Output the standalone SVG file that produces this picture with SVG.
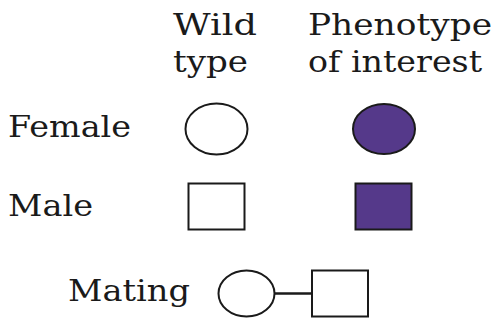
<svg xmlns="http://www.w3.org/2000/svg" width="500" height="326" viewBox="0 0 500 326">
<style>
text{font-family:"DejaVu Serif","Liberation Serif",serif;font-size:29px;fill:#1a1a1a}
.sym{stroke:#1a1a1a;stroke-width:2}
.wt{fill:#ffffff}
.ph{fill:#55398a}
.conn{stroke:#1a1a1a;stroke-width:2.5;fill:none}
</style>
<rect width="500" height="326" fill="#ffffff"/>
<g id="header-wild"><text x="173" y="35" textLength="84" lengthAdjust="spacingAndGlyphs">Wild</text><text x="173" y="72" textLength="75" lengthAdjust="spacingAndGlyphs">type</text></g>
<g id="header-phenotype"><text x="308" y="35" textLength="184" lengthAdjust="spacingAndGlyphs">Phenotype</text><text x="308" y="72" textLength="174" lengthAdjust="spacingAndGlyphs">of interest</text></g>
<g id="label-female"><text x="8" y="137" textLength="123" lengthAdjust="spacingAndGlyphs">Female</text></g>
<g id="label-male"><text x="8" y="216" textLength="85" lengthAdjust="spacingAndGlyphs">Male</text></g>
<g id="label-mating"><text x="68" y="301" textLength="122" lengthAdjust="spacingAndGlyphs">Mating</text></g>
<g id="female-wild"><ellipse class="sym wt" cx="216.5" cy="129" rx="31" ry="25.5"/></g>
<g id="female-pheno"><ellipse class="sym ph" cx="384" cy="129" rx="31" ry="25"/></g>
<g id="male-wild"><rect class="sym wt" x="188.5" y="183.5" width="56" height="46"/></g>
<g id="male-pheno"><rect class="sym ph" x="355.5" y="183.5" width="56" height="46"/></g>
<g id="mating-female"><ellipse class="sym wt" cx="246.5" cy="293.5" rx="28" ry="23"/></g>
<g id="mating-male"><rect class="sym wt" x="312" y="270.5" width="56" height="46"/></g>
<g id="connectors"><line class="conn" x1="274.5" y1="293.5" x2="312" y2="293.5"/></g>
</svg>
